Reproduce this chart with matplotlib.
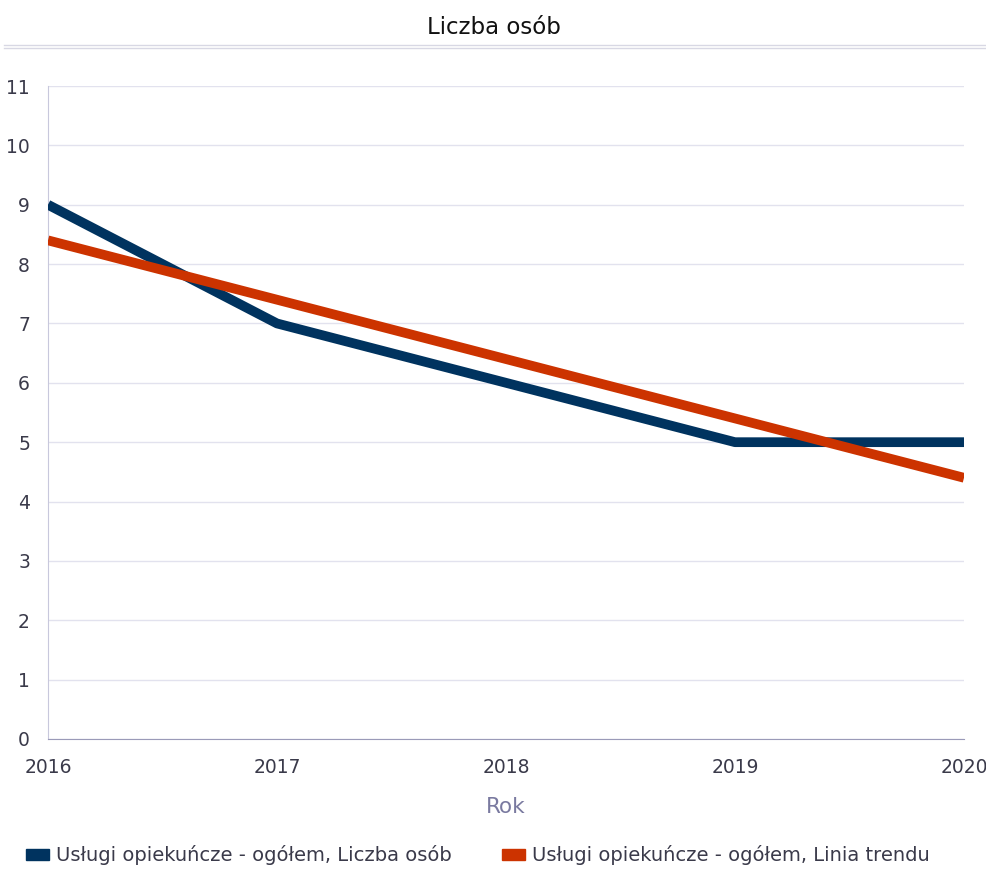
import matplotlib.pyplot as plt
from matplotlib.lines import Line2D
from matplotlib.patches import Patch

plt.rcParams['font.family'] = ['DejaVu Sans']

years = [2016, 2017, 2018, 2019, 2020]
osoby = [9, 7, 6, 5, 5]
trend = [8.4, 7.4, 6.4, 5.4, 4.4]
y_ticks = list(range(0, 12))

navy = '#00335f'
red = '#cc3300'
txt = '#3a3a4a'

fig = plt.figure(figsize=(9.87, 8.69), dpi=100)
ax = fig.add_axes([48 / 987, 130 / 869, 916 / 987, 653 / 869])

ax.plot(years, osoby, color=navy, lw=7, solid_capstyle='butt', zorder=3)
ax.plot(years, trend, color=red, lw=7, solid_capstyle='butt', zorder=4)

ax.set_xlim(2016, 2020)
ax.set_ylim(0, 11)
ax.set_xticks(years)
ax.set_yticks(y_ticks)
ax.grid(axis='y', color='#e2e2ee', lw=1)
ax.set_axisbelow(True)
ax.tick_params(length=0, labelsize=13.5, colors=txt)
ax.tick_params(axis='x', pad=14)
ax.tick_params(axis='y', pad=13)
for s in ['top', 'right']:
    ax.spines[s].set_visible(False)
ax.spines['left'].set_color('#c8c8dc')
ax.spines['bottom'].set_color('#9a9ab8')

ax.set_xlabel('Rok', fontsize=15.5, color='#7a7aa0', labelpad=14)

fig.text(0.5, 0.968, 'Liczba osób', ha='center', va='center', fontsize=16.5, color='#111111')
fig.add_artist(Line2D([4 / 987, 1], [1 - 45 / 869] * 2, color='#d8d8e4', lw=1))
fig.add_artist(Line2D([4 / 987, 1], [1 - 48 / 869] * 2, color='#d8d8e4', lw=1))

handles = [Patch(color=navy), Patch(color=red)]
fig.legend(handles, ['Usługi opiekuńcze - ogółem, Liczba osób',
                     'Usługi opiekuńcze - ogółem, Linia trendu'],
           loc='center', bbox_to_anchor=(0.484, 1 - 855 / 869), ncol=2, frameon=False,
           fontsize=14, labelcolor=txt, handletextpad=0.35, columnspacing=2.6,
           handlelength=1.2, handleheight=0.5)

fig.savefig('out.png', dpi=100)
